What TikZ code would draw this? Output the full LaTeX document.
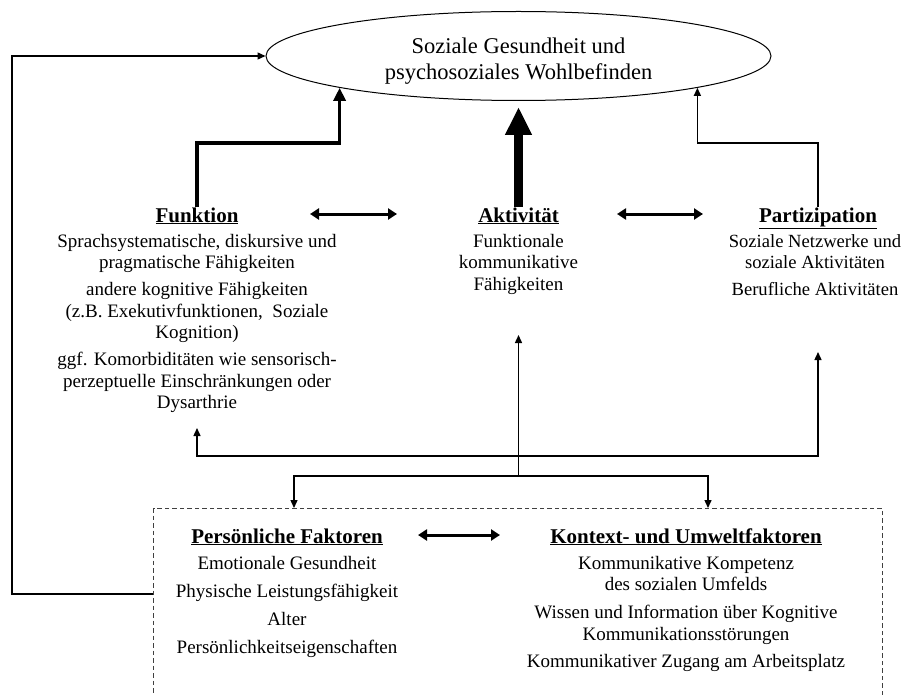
\documentclass[tikz,border=0pt]{standalone}
\usepackage{fontspec}
\setmainfont{Liberation Serif}
\usetikzlibrary{arrows.meta,shapes.geometric}

\tikzset{
  body/.style={align=center, inner sep=0pt, font=\fontsize{19}{21.5}\selectfont},
  head/.style={inner sep=0pt, anchor=base, font=\fontsize{21}{24}\selectfont\bfseries},
  goalshape/.style={ellipse, draw, line width=1pt, minimum width=505pt, minimum height=89pt, inner sep=0pt, align=center, font=\fontsize{22.5}{26}\selectfont},
  thinarrow/.style={line width=1.4pt, -{Triangle[length=8pt,width=7pt]}},
  midarrow/.style={line width=3.5pt, -{Triangle[length=13pt,width=12pt]}},
  bigarrow/.style={line width=9pt, -{Triangle[length=28pt,width=25pt]}},
  twoway/.style={line width=3pt, {Triangle[length=9pt,width=11pt]}-{Triangle[length=9pt,width=11pt]}},
  dashbox/.style={draw=black!75, line width=1pt, dash pattern=on 4.5pt off 3pt, inner sep=0pt, anchor=north west}
}
\newcommand{\hd}[1]{\underline{#1}}

\begin{document}
\begin{tikzpicture}[x=1pt,y=-1pt]
\useasboundingbox (0,0) rectangle (904,695);

% outcome
\node[goalshape] (goal) at (518.5,56) {\rule{0pt}{26pt}Soziale Gesundheit und\\psychosoziales Wohlbefinden};

% three ICF domains
\node[head] (funk) at (197,222) {\hd{Funktion}};
\node[head] (akt)  at (518.5,222) {\hd{Aktivität}};
\node[head] (part) at (818,222) {\hd{Partizipation}};

\node[body, anchor=north] (funktxt) at (197,234) {Sprachsystematische, diskursive und\\pragmatische Fähigkeiten\\[5.5pt]
andere kognitive Fähigkeiten\\(z.B. Exekutivfunktionen,~ Soziale\\Kognition)\\[5.5pt]
ggf. Komorbiditäten wie sensorisch-\\perzeptuelle Einschränkungen oder\\Dysarthrie};
\node[body, anchor=north] (akttxt) at (518.5,234) {Funktionale\\kommunikative\\Fähigkeiten};
\node[body, anchor=north, font=\fontsize{18.6}{21.5}\selectfont] (parttxt) at (815,234) {Soziale Netzwerke und\\soziale Aktivitäten\\[5.5pt]Berufliche Aktivitäten};

% personal and environmental factors
\node[dashbox, minimum width=729pt, minimum height=230pt] (box) at (153,508) {};
\node[head] (pers) at (287,543) {\hd{Persönliche Faktoren}};
\node[head] (umw) at (686,543) {\hd{Kontext- und Umweltfaktoren}};
\node[body, anchor=north] (perstxt) at (287,556) {Emotionale Gesundheit\\[6.5pt]Physische Leistungsfähigkeit\\[6.5pt]Alter\\[6.5pt]Persönlichkeitseigenschaften};
\node[body, anchor=north] (umwtxt) at (686,556) {Kommunikative Kompetenz\\des sozialen Umfelds\\[6.5pt]Wissen und Information über Kognitive\\Kommunikationsstörungen\\[6pt]Kommunikativer Zugang am Arbeitsplatz};

% junction points
\coordinate (fk) at (197,143);
\coordinate (pk) at (818,143);
\coordinate (akttip) at (518.5,107);
\coordinate (bus) at (518.5,456);
\coordinate (hub) at (518.5,476);
\coordinate (fb) at (12,594);
\coordinate (fup) at (197,428);
\coordinate (pup) at (818,352);
\coordinate (aup) at (518.5,335);

% arrows into the outcome
\draw[midarrow] (funk.north) -- (fk) -| (goal.south west);
\draw[bigarrow] (akt.north) -- (akttip);
\draw[thinarrow] (part.north) -- (pk) -| (goal.south east);

% two-way links
\coordinate (d1) at (310,214); \coordinate (d2) at (397,214);
\coordinate (d3) at (617,214); \coordinate (d4) at (703,214);
\coordinate (d5) at (418,535); \coordinate (d6) at (500,535);
\draw[twoway] (d1) -- (d2);
\draw[twoway] (d3) -- (d4);
\draw[twoway] (d5) -- (d6);

% influence of the factors
\draw[thinarrow] (hub) -- (aup);
\draw[thinarrow] (bus) -| (fup);
\draw[thinarrow] (bus) -| (pup);
\draw[thinarrow] (hub) -| (box.north -| 294,0);
\draw[thinarrow] (hub) -| (box.north -| 708,0);

% feedback to the outcome
\draw[thinarrow] (box.west |- fb) -- (fb) |- (goal.west);
\end{tikzpicture}
\end{document}
